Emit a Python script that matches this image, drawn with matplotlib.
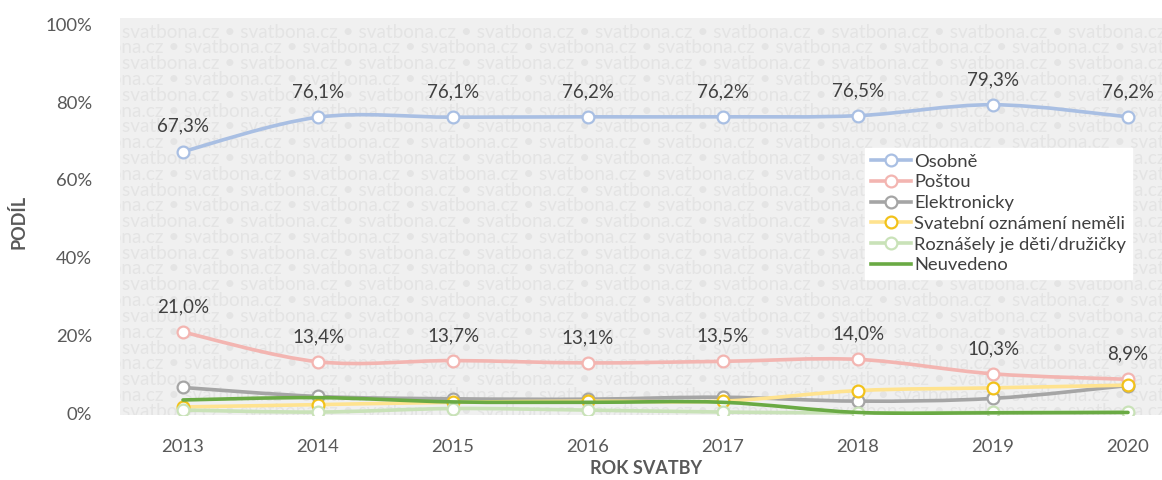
import matplotlib
matplotlib.use("Agg")
import matplotlib.pyplot as plt
from matplotlib.path import Path
from matplotlib.patches import PathPatch
from matplotlib.lines import Line2D
import numpy as np

plt.rcParams['font.family'] = ['Lato', 'DejaVu Sans']

years = [2013, 2014, 2015, 2016, 2017, 2018, 2019, 2020]
osobne = [67.3, 76.1, 76.1, 76.2, 76.2, 76.5, 79.3, 76.2]
postou = [21.0, 13.4, 13.7, 13.1, 13.5, 14.0, 10.3, 8.9]
elektronicky = [6.8, 4.5, 3.9, 3.8, 4.3, 3.3, 4.0, 7.3]
bez_oznameni = [1.8, 2.4, 3.0, 3.3, 3.3, 6.0, 6.7, 7.4]
deti = [1.0, 0.5, 1.4, 1.0, 0.5, 0.3, 0.4, 0.5]
neuvedeno = [3.6, 4.2, 3.1, 3.0, 3.0, 0.4, 0.3, 0.4]

series_names = ["Osobně", "Poštou", "Elektronicky", "Svatební oznámení neměli",
                "Roznášely je děti/družičky", "Neuvedeno"]
yticks = [0, 20, 40, 60, 80, 100]

W, H = 1162, 480
fig = plt.figure(figsize=(W / 100, H / 100), dpi=100)
# axes occupies pixel x 120..1162, y 18..415 (from top)
ax = fig.add_axes([120 / W, (H - 415) / H, (W - 120) / W, (415 - 18) / H])

# map: year 2013 -> px 183, step 135 px ; 0% -> 414 px, 100% -> 24 px
x0 = 2013 + (120 - 183) / 135
x1 = 2013 + (1162 - 183) / 135
ax.set_xlim(x0, x1)
ppp = (414 - 24) / 100
ax.set_ylim(-(415 - 414) / ppp, 100 + (24 - 18) / ppp)
ax.set_facecolor('#f0f0f0')
for s in ax.spines.values():
    s.set_visible(False)

# watermark rows
wm = "svatbona.cz • " * 10
row_h = 15.8
n_rows = int((415 - 18) / row_h) + 2
for i in range(n_rows):
    ypx = 32 + i * row_h - 18  # px from axes top
    xoff = 2 if i % 2 == 0 else -54
    ax.text(xoff / (W - 120), 1 - ypx / (415 - 18), wm, transform=ax.transAxes,
            fontsize=13.6, color='#e4e4e4', va='center', ha='left',
            clip_on=True, zorder=0.5)


def smooth_path(xs, ys):
    xs = np.asarray(xs, float)
    ys = np.asarray(ys, float)
    verts = [(xs[0], ys[0])]
    codes = [Path.MOVETO]
    n = len(xs)
    for i in range(n - 1):
        p0 = np.array([xs[max(i - 1, 0)], ys[max(i - 1, 0)]])
        p1 = np.array([xs[i], ys[i]])
        p2 = np.array([xs[i + 1], ys[i + 1]])
        p3 = np.array([xs[min(i + 2, n - 1)], ys[min(i + 2, n - 1)]])
        c1 = p1 + (p2 - p0) / 6
        c2 = p2 - (p3 - p1) / 6
        verts += [tuple(c1), tuple(c2), tuple(p2)]
        codes += [Path.CURVE4] * 3
    return Path(verts, codes)


styles = [
    (osobne, '#a9bfe3', '#a9bfe3', True),
    (postou, '#f3b5b1', '#f3b5b1', True),
    (elektronicky, '#a5a5a5', '#a5a5a5', True),
    (bez_oznameni, '#ffe38f', '#f2c21a', True),
    (deti, '#c9e2b8', '#c9e2b8', True),
    (neuvedeno, '#6aaa44', None, False),
]

handles = []
for k, (vals, lc, mc, marker) in enumerate(styles):
    z = 2 + k
    lw = 2.6
    ax.add_patch(PathPatch(smooth_path(years, vals), facecolor='none',
                           edgecolor=lc, lw=lw, zorder=z, capstyle='round'))
    if marker:
        ax.plot(years, vals, linestyle='none', marker='o', markersize=8.5,
                markerfacecolor='white', markeredgecolor=mc,
                markeredgewidth=1.6, zorder=z + 0.1)
        handles.append(Line2D([], [], color=lc, lw=lw, marker='o', markersize=8.5,
                              markerfacecolor='white', markeredgecolor=mc,
                              markeredgewidth=1.6))
    else:
        handles.append(Line2D([], [], color=lc, lw=lw))

# data labels for the two main series
for vals in (osobne, postou):
    for x, v in zip(years, vals):
        ax.annotate(f"{v:.1f}%".replace('.', ','), (x, v), xytext=(0, 12),
                    textcoords='offset points', ha='center', va='bottom',
                    fontsize=13.5, color='#404040', zorder=10)

ax.set_xticks(years)
ax.set_xticklabels([str(y) for y in years])
ax.set_yticks(yticks)
ax.set_yticklabels([f"{t}%" for t in yticks])
ax.tick_params(axis='both', length=0, labelsize=13.3, labelcolor='#595959')
ax.tick_params(axis='x', pad=17)
ax.tick_params(axis='y', pad=20)

fig.text(18 / W, 1 - 222 / H, "PODÍL", rotation=90, ha='center', va='center',
         fontsize=13, fontweight='bold', color='#595959')
fig.text(646 / W, 1 - 469 / H, "ROK SVATBY", ha='center', va='center',
         fontsize=13, fontweight='bold', color='#595959')

leg = ax.legend(handles, series_names, loc='upper left',
                bbox_to_anchor=((865 - 120) / (W - 120), 1 - (148 - 18) / (415 - 18)),
                frameon=True, fancybox=False, framealpha=1, facecolor='white',
                edgecolor='white', fontsize=13.2, labelcolor='#404040',
                handlelength=2.2, handletextpad=0.2, labelspacing=0.26,
                borderpad=0.3, borderaxespad=0)
leg.set_zorder(20)

fig.savefig("out.png", dpi=100, facecolor='white')
